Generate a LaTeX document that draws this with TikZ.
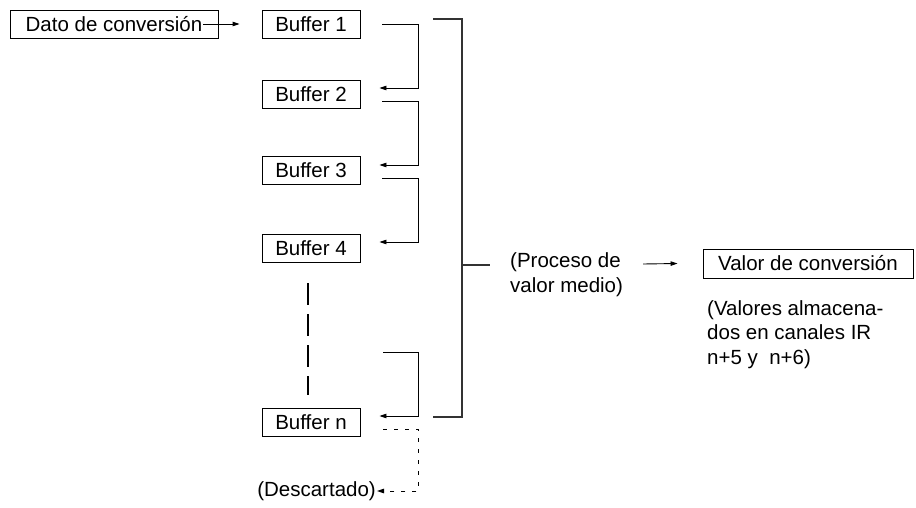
\documentclass[tikz,border=0pt]{standalone}
\usepackage{fontspec}
\setmainfont{Liberation Sans}
\usetikzlibrary{arrows.meta}
\begin{document}
\begin{tikzpicture}[x=1pt,y=-1pt,
  font=\fontsize{20.5}{25}\selectfont,
  box/.style={draw, line width=0.9pt, minimum height=28pt, inner sep=0pt},
  bufbox/.style={box, minimum width=98pt},
  link/.style={line width=0.9pt},
  arr/.style={link, -{Triangle[length=7pt,width=4.5pt]}},
  bracket/.style={line width=1.3pt, black!80},
  txt/.style={inner sep=0pt, align=left}]
\useasboundingbox (0,0) rectangle (916,508);

% input and buffer chain
\node[box, minimum width=208pt] (dato) at (114,24) {Dato de conversión};
\node[bufbox] (b1) at (311,24) {Buffer 1};
\node[bufbox] (b2) at (311,94) {Buffer 2};
\node[bufbox] (b3) at (311,170.5) {Buffer 3};
\node[bufbox] (b4) at (311,248) {Buffer 4};
\node[bufbox] (bn) at (311,422) {Buffer n};

\draw[arr] ([xshift=-15pt]dato.east) -- ([xshift=-22pt]b1.west);

% shifting between buffers
\draw[arr] ([xshift=22pt]b1.east) -- ++(36,0) |- ([xshift=19pt,yshift=6pt]b2.east);
\draw[arr] ([xshift=22pt,yshift=-7pt]b2.east) -- ++(36,0) |- ([xshift=19pt,yshift=5.5pt]b3.east);
\draw[arr] ([xshift=22pt,yshift=-7.5pt]b3.east) -- ++(36,0) |- ([xshift=19pt,yshift=6pt]b4.east);
\coordinate (nin) at (383,352);
\draw[arr] (nin) -- ++(35,0) |- ([xshift=19pt,yshift=6pt]bn.east);

% continuation between Buffer 4 and Buffer n
\coordinate (gtop) at (308,283);
\coordinate (gbot) at (308,395);
\draw[line width=1.8pt, dash pattern=on 22pt off 9pt] (gtop) -- (gbot);

% discarded value
\node[txt, anchor=east] (desc) at (376,491) {(Descartado)};
\draw[arr, dash pattern=on 4pt off 7pt] ([xshift=23pt,yshift=-7pt]bn.east) -- ++(35,0) |- ([xshift=1pt]desc.east);

% averaging bracket
\coordinate (btl) at (433,19);
\coordinate (btr) at (462,19);
\coordinate (bbr) at (462,417);
\coordinate (bbl) at (433,417);
\coordinate (bmid) at (462,265);
\coordinate (bout) at (490,265);
\draw[bracket] (btl) -- (btr) -- (bbr) -- (bbl);
\draw[bracket] (bmid) -- (bout);

\node[txt, anchor=west] (proc) at (510,275) {(Proceso de\\valor medio)};
\node[box, minimum width=210pt, minimum height=29pt] (valor) at (808,263.5) {Valor de conversión};
\draw[arr] ([xshift=133pt,yshift=11pt]proc.west) -- ([xshift=-25pt]valor.west);

\node[txt, anchor=north west, font=\fontsize{20.5}{24.5}\selectfont] (alm) at (707,300) {(Valores almacena-\\dos en canales IR\\n+5 y\ \ n+6)};
\end{tikzpicture}
\end{document}
